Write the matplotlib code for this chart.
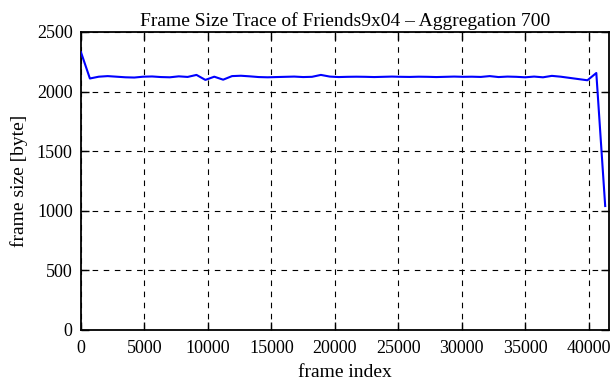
import matplotlib
matplotlib.use("Agg")
import matplotlib.pyplot as plt
import numpy as np

agg = 700
frame_size = [
    2330, 2110, 2125, 2130, 2125, 2120, 2118, 2125, 2127, 2122,
    2120, 2128, 2123, 2140, 2098, 2125, 2100, 2130, 2133, 2128,
    2122, 2120, 2122, 2124, 2126, 2122, 2124, 2140, 2126, 2122,
    2124, 2125, 2124, 2122, 2124, 2126, 2124, 2123, 2125, 2124,
    2122, 2124, 2126, 2124, 2125, 2123, 2130, 2122, 2126, 2124,
    2120, 2126, 2120, 2132, 2125, 2115, 2105, 2095, 2156, 1040,
]
frame_index = [i * agg for i in range(len(frame_size))]

xticks = [0, 5000, 10000, 15000, 20000, 25000, 30000, 35000, 40000]
yticks = [0, 500, 1000, 1500, 2000, 2500]

plt.rcParams['font.family'] = ['Liberation Serif', 'DejaVu Serif']

fig = plt.figure(figsize=(6.11, 3.80), dpi=100)
ax = fig.add_axes([81/611, 50/380, 528/611, 298/380])

ax.plot(frame_index, frame_size, color='#0000ff', lw=1.5, zorder=3)

ax.set_xlim(0, 41600)
ax.set_ylim(0, 2500)
ax.set_xticks(xticks)
ax.set_yticks(yticks)
ax.tick_params(direction='in', top=True, right=True, length=6, width=1,
               labelsize=13, colors='black')
ax.tick_params(axis='x', pad=7)
ax.tick_params(axis='y', pad=6)
ax.grid(True, color='black', linestyle=(0, (5, 5)), lw=0.8)
for s in ax.spines.values():
    s.set_linewidth(1.3)

ax.set_title('Frame Size Trace of Friends9x04 – Aggregation 700', fontsize=14, pad=4)
ax.set_xlabel('frame index', fontsize=14, labelpad=5)
ax.set_ylabel('frame size [byte]', fontsize=14, labelpad=6)

fig.savefig('out.png', dpi=100)
